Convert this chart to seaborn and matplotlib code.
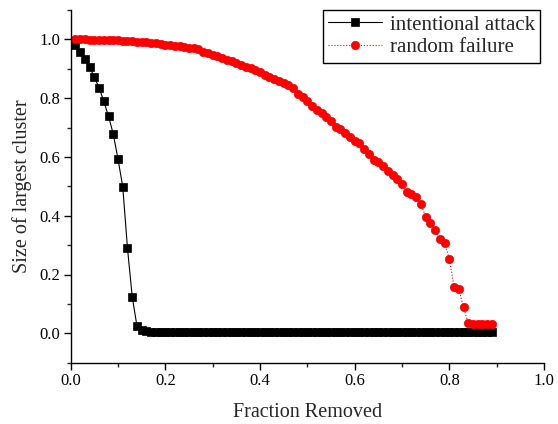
import numpy as np
import pandas as pd
import matplotlib
matplotlib.use("Agg")
import matplotlib.pyplot as plt
import seaborn as sns
from matplotlib.ticker import MultipleLocator

# ---- data ----
fraction = [round(0.01 * i, 2) for i in range(1, 90)]

attack = [0.981, 0.958, 0.934, 0.906, 0.871, 0.835, 0.789, 0.738, 0.677, 0.592,
          0.498, 0.289, 0.124, 0.025, 0.011, 0.008, 0.006, 0.005, 0.004, 0.004] + [0.003] * 69

failure = [1.000, 1.000, 1.000, 0.999, 0.999, 0.998, 0.998, 0.997, 0.997, 0.996,
           0.995, 0.994, 0.993, 0.992, 0.991, 0.990, 0.988, 0.986, 0.984, 0.982,
           0.980, 0.978, 0.976, 0.974, 0.972, 0.969, 0.966, 0.958, 0.952, 0.947,
           0.942, 0.936, 0.931, 0.926, 0.920, 0.914, 0.907, 0.902, 0.895, 0.888,
           0.880, 0.873, 0.866, 0.857, 0.851, 0.843, 0.833, 0.815, 0.803, 0.790,
           0.772, 0.760, 0.748, 0.737, 0.723, 0.701, 0.694, 0.682, 0.668, 0.655,
           0.647, 0.628, 0.610, 0.589, 0.582, 0.568, 0.552, 0.540, 0.525, 0.508,
           0.482, 0.474, 0.465, 0.440, 0.395, 0.375, 0.350, 0.322, 0.308, 0.253,
           0.159, 0.150, 0.088, 0.034, 0.032, 0.031, 0.030, 0.030, 0.032]

series_labels = ["intentional attack", "random failure"]
x_ticks = [0.0, 0.2, 0.4, 0.6, 0.8, 1.0]
y_ticks = [0.0, 0.2, 0.4, 0.6, 0.8, 1.0]

# ---- style ----
sns.set_style("ticks")
plt.rcParams['font.family'] = ['Liberation Serif', 'DejaVu Serif']
plt.rcParams['mathtext.fontset'] = 'stix'

fig = plt.figure(figsize=(5.58, 4.24), dpi=100)
ax = fig.add_axes([70.7 / 558, 61.3 / 424, (544 - 70.7) / 558, (362.7 - 9.9) / 424])

df_a = pd.DataFrame({"x": fraction, "y": attack})
df_f = pd.DataFrame({"x": fraction, "y": failure})

sns.lineplot(data=df_a, x="x", y="y", ax=ax, color="black", linewidth=0.8,
             marker="s", markersize=5.2, markeredgecolor="black", markeredgewidth=0.5,
             label=series_labels[0], estimator=None, sort=False)
sns.lineplot(data=df_f, x="x", y="y", ax=ax, color="red", linewidth=0.8,
             linestyle=":", marker="o", markersize=6, markeredgecolor="red",
             markeredgewidth=0.5, label=series_labels[1], estimator=None, sort=False)

ax.set_xlim(0, 1.0)
ax.set_ylim(-0.1, 1.1)
ax.set_xticks(x_ticks)
ax.set_yticks(y_ticks)
ax.set_xticklabels([f"{t:.1f}" for t in x_ticks])
ax.set_yticklabels([f"{t:.1f}" for t in y_ticks])
ax.xaxis.set_minor_locator(MultipleLocator(0.1))
ax.yaxis.set_minor_locator(MultipleLocator(0.1))
ax.tick_params(axis="both", which="major", direction="out", length=5, width=1,
               labelsize=12, colors="black", pad=2.5)
ax.tick_params(axis="both", which="minor", direction="out", length=3, width=1)

ax.set_xlabel("Fraction Removed", fontsize=14.5, labelpad=10)
ax.set_ylabel("Size of largest cluster", fontsize=14.5, labelpad=5)

for s in ["top", "right"]:
    ax.spines[s].set_visible(False)
for s in ["left", "bottom"]:
    ax.spines[s].set_linewidth(1.0)
    ax.spines[s].set_color("black")

leg = ax.legend(loc="upper right", bbox_to_anchor=(540 / 558, 1 - 10 / 424),
                bbox_transform=fig.transFigure, borderaxespad=0, fontsize=15,
                frameon=True, fancybox=False, handlelength=2.6, handletextpad=0.35,
                borderpad=0.25, labelspacing=0.15)
leg.get_frame().set_edgecolor("black")
leg.get_frame().set_linewidth(1.0)
leg.get_frame().set_alpha(1)

fig.savefig("out.png", dpi=100)
